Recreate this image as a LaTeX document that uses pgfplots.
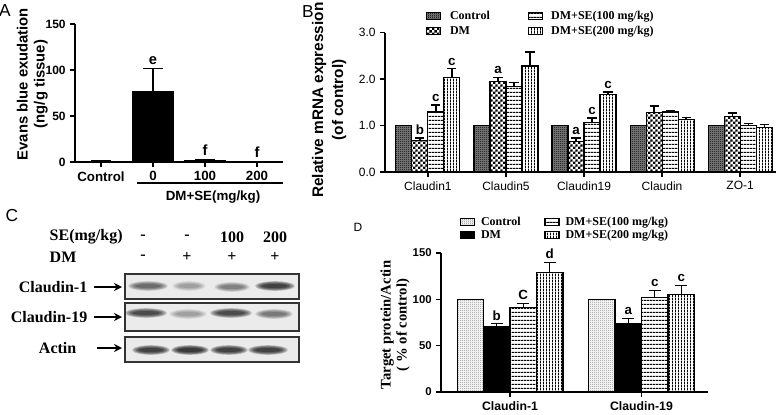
\documentclass[border=0pt]{standalone}
\usepackage{fontspec}
\setmainfont{Liberation Serif}
\setsansfont{Liberation Sans}
\usepackage{pgfplots}
\pgfplotsset{compat=1.18}
\usetikzlibrary{patterns,arrows.meta}

\newcommand\fs[2]{\fontsize{#1}{#2}\selectfont}

% fill patterns of the bars
\pgfdeclarepatternformonly{finecheck}{\pgfpointorigin}{\pgfqpoint{1.5pt}{1.5pt}}{\pgfqpoint{1.5pt}{1.5pt}}{%
  \pgfpathrectangle{\pgfpointorigin}{\pgfqpoint{0.75pt}{0.75pt}}%
  \pgfpathrectangle{\pgfqpoint{0.75pt}{0.75pt}}{\pgfqpoint{0.75pt}{0.75pt}}%
  \pgfusepath{fill}}
\pgfdeclarepatternformonly{bigcheck}{\pgfpointorigin}{\pgfqpoint{3.6pt}{3.6pt}}{\pgfqpoint{3.6pt}{3.6pt}}{%
  \pgfpathrectangle{\pgfpointorigin}{\pgfqpoint{1.8pt}{1.8pt}}%
  \pgfpathrectangle{\pgfqpoint{1.8pt}{1.8pt}}{\pgfqpoint{1.8pt}{1.8pt}}%
  \pgfusepath{fill}}
\pgfdeclarepatternformonly{hl}{\pgfpointorigin}{\pgfqpoint{2pt}{2.7pt}}{\pgfqpoint{2pt}{2.7pt}}{%
  \pgfpathrectangle{\pgfpointorigin}{\pgfqpoint{2pt}{0.9pt}}\pgfusepath{fill}}
\pgfdeclarepatternformonly{vl}{\pgfpointorigin}{\pgfqpoint{2.4pt}{2pt}}{\pgfqpoint{2.4pt}{2pt}}{%
  \pgfpathrectangle{\pgfpointorigin}{\pgfqpoint{0.8pt}{2pt}}\pgfusepath{fill}}

\pgfplotsset{
  boxleg/.style={legend image code/.code={\draw[##1,line width=0.8pt] (0pt,-2.5pt) rectangle (10.5pt,2.8pt);}},
  panel/.style={
    scale only axis, clip=false, ybar,
    axis x line*=bottom, axis y line*=left,
    axis line style={line width=1pt},
    tick align=outside, major tick length=3.5pt,
    every tick/.style={black, line width=1pt},
    xtick style={draw=black}, ytick style={draw=black},
  },
  err/.style={error bars/.cd, y dir=plus, y explicit, error mark=-,
    error bar style={line width=0.9pt, solid, draw=black},
    error mark options={line width=0.9pt, draw=black, rotate=90, mark size=#1}},
}
\tikzset{lab/.style={anchor=south, inner sep=0pt, yshift=2.5pt, font=\sffamily\bfseries\fs{10}{12}}}

% western blot band: centre x, centre y, half width, strength
\newcommand\band[4]{%
  \foreach \k in {1,...,5}{%
    \fill[black, opacity=#4] (#1,#2) ellipse [x radius={#3*(1.2-0.1*\k)*0.75pt}, y radius={(5.5-0.7*\k)*0.75pt}];}}

\begin{document}
\begin{tikzpicture}
\useasboundingbox (0,0) rectangle (585.75pt,-310.5pt);

% ---------------- A ----------------
\begin{axis}[panel,
  at={(56.25pt,-121.5pt)}, anchor=south west,
  width=156pt, height=103.5pt,
  xmin=-0.5, xmax=3.5, ymin=0, ymax=150,
  bar width=0.77,
  xtick={0,1,2,3}, xticklabels={Control,0,100,200},
  ytick={0,50,100,150}, yticklabels={0,50,100,150},
  xticklabel style={font=\sffamily\bfseries\fs{10}{12}},
  yticklabel style={font=\sffamily\bfseries\fs{9}{11}},
  every axis y label/.style={at={(axis description cs:-0.205,0.565)}, rotate=90, anchor=center,
    align=center, font=\sffamily\bfseries\fs{11.1}{12.75}},
  ylabel={Evans blue exudation\\(ng/g tissue)},
]
\addplot[fill=black, draw=black, line width=0.8pt, err=7.5pt]
  coordinates {(0,1) +- (0,0.5) (1,77) +- (0,25) (2,1.5) +- (0,1) (3,0.4) +- (0,0)};
\node[lab, font=\sffamily\bfseries\fs{11}{13}] at (axis cs:1,102) {e};
\node[lab, font=\sffamily\bfseries\fs{11}{13}] at (axis cs:2,3) {f};
\node[lab, font=\sffamily\bfseries\fs{11}{13}] at (axis cs:3,1) {f};
\end{axis}
\draw[line width=1pt] (102.75pt,-137.25pt) -- (212.25pt,-137.25pt);
\node[font=\sffamily\bfseries\fs{10}{12}] at (159.75pt,-147.75pt) {DM+SE(mg/kg)};

% ---------------- B ----------------
\begin{axis}[panel,
  at={(288.75pt,-129pt)}, anchor=south west,
  width=293.25pt, height=104.625pt,
  xmin=-0.55, xmax=4.46, ymin=0, ymax=3,
  bar width=0.205,
  xtick={0,1,2,3,4}, xticklabels={Claudin1,Claudin5,Claudin19,Claudin,ZO-1},
  ytick={0,1,2,3}, yticklabels={0.0,1.0,2.0,3.0},
  xticklabel style={font=\sffamily\fs{9}{11}},
  yticklabel style={font=\sffamily\fs{9}{11}},
  every axis y label/.style={at={(axis description cs:-0.143,0.516)}, rotate=90, anchor=center,
    align=center, font=\sffamily\bfseries\fs{11.5}{15}},
  ylabel={Relative mRNA expression\\(of control)},
  legend columns=2, transpose legend,
  legend style={draw=none, fill=none, inner sep=0pt, row sep=2.25pt,
    at={(axis description cs:0.105,1.158)}, anchor=north west,
    nodes={inner sep=0.5pt, anchor=west},
    font=\rmfamily\bfseries\fs{9}{10.5},
    /tikz/every odd column/.append style={column sep=6pt},
    /tikz/every even column/.append style={column sep=27.75pt}},
]
\addplot[bar shift=-0.3075, draw=black, line width=0.8pt, fill=black!50,
  postaction={pattern=finecheck, pattern color=black}, boxleg]
  coordinates {(0,1) (1,1) (2,1) (3,1) (4,1)};
\addlegendentry{Control}
\addplot[bar shift=-0.1025, draw=black, line width=0.8pt, pattern=bigcheck, boxleg, err=3.4pt]
  coordinates {(0,0.67) +- (0,0.06) (1,1.94) +- (0,0.10) (2,0.65) +- (0,0.08) (3,1.27) +- (0,0.15) (4,1.19) +- (0,0.08)};
\addlegendentry{DM}
\addplot[bar shift=0.1025, draw=black, line width=0.8pt, pattern=hl, boxleg, err=3.4pt]
  coordinates {(0,1.29) +- (0,0.15) (1,1.83) +- (0,0.09) (2,1.07) +- (0,0.09) (3,1.29) +- (0,0.02) (4,1.01) +- (0,0.03)};
\addlegendentry{DM+SE(100 mg/kg)}
\addplot[bar shift=0.3075, draw=black, line width=0.8pt, pattern=vl, boxleg, err=3.4pt]
  coordinates {(0,2.03) +- (0,0.19) (1,2.28) +- (0,0.30) (2,1.66) +- (0,0.06) (3,1.13) +- (0,0.05) (4,0.95) +- (0,0.08)};
\addlegendentry{DM+SE(200 mg/kg)}
\node[lab] at (axis cs:-0.1025,0.73) {b};
\node[lab] at (axis cs:0.1025,1.44) {c};
\node[lab] at (axis cs:0.3075,2.22) {c};
\node[lab] at (axis cs:0.8975,2.04) {a};
\node[lab] at (axis cs:1.8975,0.73) {a};
\node[lab] at (axis cs:2.1025,1.16) {c};
\node[lab] at (axis cs:2.3075,1.72) {c};
\end{axis}

% ---------------- D ----------------
\begin{axis}[panel,
  at={(330.75pt,-294pt)}, anchor=south west,
  width=200.25pt, height=104.25pt,
  xmin=-0.525, xmax=1.506, ymin=0, ymax=150,
  bar width=0.2015,
  xtick={0,1}, xticklabels={Claudin-1,Claudin-19},
  ytick={0,50,100,150}, yticklabels={0,50,100,150},
  xticklabel style={font=\sffamily\bfseries\fs{9.2}{11}},
  yticklabel style={font=\sffamily\bfseries\fs{8.5}{10}},
  every axis y label/.style={at={(axis description cs:-0.172,0.482)}, rotate=90, anchor=center,
    align=center, font=\rmfamily\bfseries\fs{11}{12}},
  ylabel={Target protein/Actin\\( \% of control)},
  legend columns=2, transpose legend,
  legend style={draw=none, fill=none, inner sep=0pt, row sep=1.2pt,
    at={(axis description cs:0.07,1.265)}, anchor=north west,
    nodes={inner sep=0.5pt, anchor=west},
    font=\rmfamily\bfseries\fs{9}{10},
    /tikz/every odd column/.append style={column sep=4pt},
    /tikz/every even column/.append style={column sep=17.25pt}},
]
\addplot[bar shift=-0.3023, draw=black, line width=0.8pt, pattern=finecheck, pattern color=black!45, boxleg]
  coordinates {(0,100) (1,100)};
\addlegendentry{Control}
\addplot[bar shift=-0.1008, draw=black, fill=black, line width=0.8pt, boxleg, err=4.5pt]
  coordinates {(0,70.5) +- (0,3) (1,73.4) +- (0,6)};
\addlegendentry{DM}
\addplot[bar shift=0.1008, draw=black, line width=0.8pt, pattern=hl, boxleg, err=4.5pt]
  coordinates {(0,91) +- (0,4.7) (1,102.2) +- (0,7.2)};
\addlegendentry{DM+SE(100 mg/kg)}
\addplot[bar shift=0.3023, draw=black, line width=0.8pt, pattern=vl, boxleg, err=4.5pt]
  coordinates {(0,128.8) +- (0,11.2) (1,105.4) +- (0,9.3)};
\addlegendentry{DM+SE(200 mg/kg)}
\node[lab] at (axis cs:-0.1008,73.5) {b};
\node[lab] at (axis cs:0.1008,95.7) {C};
\node[lab] at (axis cs:0.3023,140) {d};
\node[lab] at (axis cs:0.8992,79.5) {a};
\node[lab] at (axis cs:1.1008,109.4) {c};
\node[lab] at (axis cs:1.3023,114.7) {c};
\end{axis}

% ---------------- C (blot) and panel letters, in pixel units ----------------
\begin{scope}[x=0.75pt, y=-0.75pt]
\node[font=\sffamily\fs{13}{15}] at (5,11) {A};
\node[font=\sffamily\fs{13}{15}] at (308,12) {B};
\node[font=\sffamily\fs{13}{15}] at (12,216) {C};
\node[font=\sffamily\fs{9}{11}] at (358,227) {D};

\begin{scope}[font=\rmfamily\bfseries\fs{12}{14}]
\node[anchor=west] at (45,237) {SE(mg/kg)};
\node at (143,237) {-}; \node at (187,237) {-};
\node at (232,237) {100}; \node at (275,237) {200};
\node[anchor=west] at (45,257) {DM};
\node at (143,257) {-}; \node at (187,257) {+};
\node at (232,257) {+}; \node at (275,257) {+};
\node[anchor=east] at (92,287) {Claudin-1};
\node[anchor=east] at (92,317) {Claudin-19};
\node[anchor=east] at (81,348) {Actin};
\end{scope}
\draw[-{Stealth[length=6pt,width=6pt]}, line width=1.2pt] (94,287) -- (122,287);
\draw[-{Stealth[length=6pt,width=6pt]}, line width=1.2pt] (94,317) -- (122,317);
\draw[-{Stealth[length=6pt,width=6pt]}, line width=1.2pt] (97,348) -- (122,348);

\draw[fill=black!8, draw=black!80, line width=1.1pt] (125,274) rectangle (299,299);
\draw[fill=black!8, draw=black!80, line width=1.1pt] (125,303) rectangle (299,331);
\draw[fill=black!8, draw=black!80, line width=1.1pt] (125,337) rectangle (299,362);

\band{148}{286}{18}{0.14} \band{189}{286}{15}{0.07} \band{232}{287}{16}{0.11} \band{275}{286}{18}{0.22}
\band{146}{313}{19}{0.20} \band{188}{314}{17}{0.07} \band{231}{313}{19}{0.20} \band{274}{314}{17}{0.12}
\band{151}{350}{17}{0.22} \band{190}{350}{17}{0.24} \band{229}{350}{17}{0.22} \band{268}{350}{18}{0.22}
\end{scope}
\end{tikzpicture}
\end{document}
